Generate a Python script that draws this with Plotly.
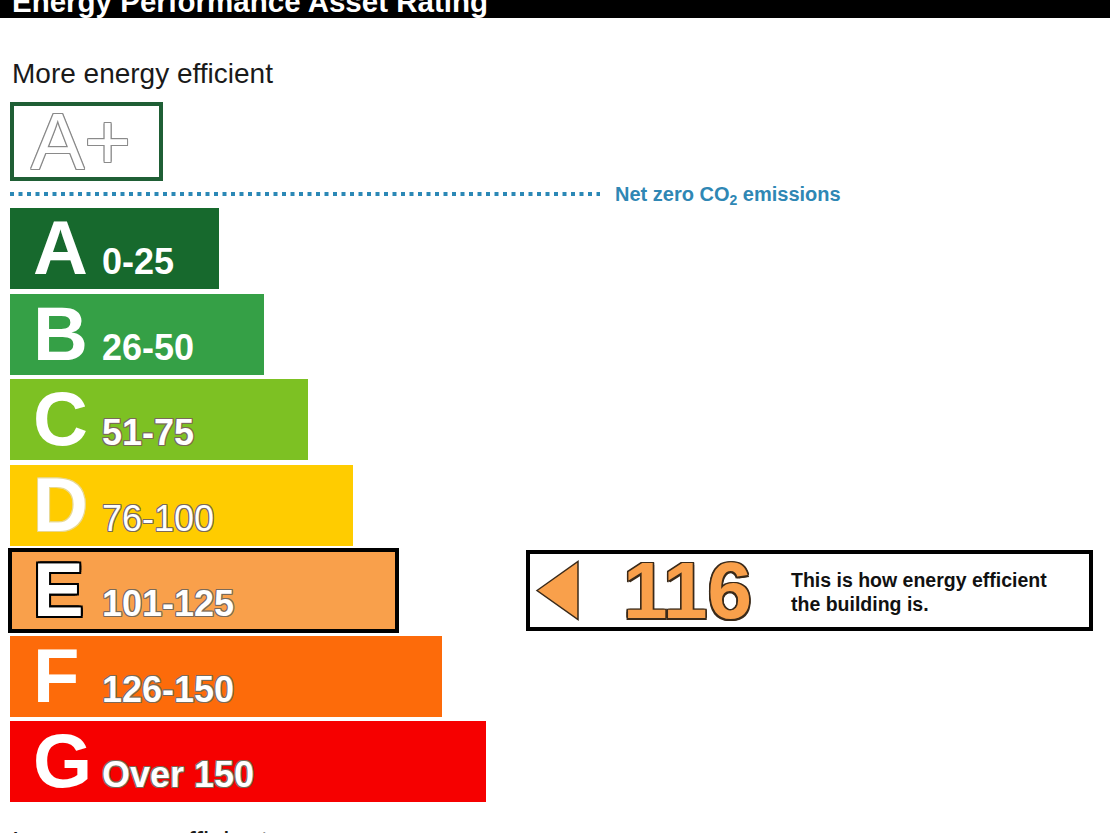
import plotly.graph_objects as go

# ---- data ----
bands = ["A", "B", "C", "D", "E", "F", "G"]
score_ranges = ["0-25", "26-50", "51-75", "76-100", "101-125", "126-150", "Over 150"]
band_colors = ["#17692d", "#35a046", "#7dc123", "#ffcc00", "#f9a04b", "#fd6b0a", "#f60000"]
rating = 116
rating_band = "E"
title_text = "Energy Performance Asset Rating"
top_label = "More energy efficient"
bottom_label = "Less energy efficient"
net_zero_label = "Net zero CO<sub>2</sub> emissions"
rating_note = ["This is how energy efficient", "the building is."]

W, H = 1110, 833
FONT = "Liberation Sans, Arial, sans-serif"

# layout geometry (pixels)
left = 10
top0 = 208
pitch = 85.5
bar_h = 81
len0 = 209
len_step = 44.5

tops = [top0 + pitch * i for i in range(len(bands))]
centers = [t + bar_h / 2 for t in tops]
lengths = [len0 + len_step * i for i in range(len(bands))]
sel = bands.index(rating_band)


def py(p):
    return 1 - p / H


def outline(col, w=1):
    return (f"-{w}px -{w}px 0 {col}, {w}px -{w}px 0 {col}, -{w}px {w}px 0 {col}, {w}px {w}px 0 {col},"
            f" 0 {w}px 0 {col}, 0 -{w}px 0 {col}, {w}px 0 0 {col}, -{w}px 0 0 {col}")


fig = go.Figure()
fig.add_trace(go.Bar(
    orientation="h",
    y=centers,
    x=lengths,
    base=left,
    width=[bar_h] * len(bands),
    marker=dict(
        color=band_colors,
        line=dict(color="#000000", width=[4 if b == rating_band else 0 for b in bands]),
    ),
    hoverinfo="skip",
    showlegend=False,
))

shapes = []
ann = []

# title band
shapes.append(dict(type="rect", xref="paper", yref="paper", x0=0, x1=1, y0=py(18), y1=py(-5),
                   fillcolor="#000000", line=dict(width=0), layer="below"))
ann.append(dict(xref="paper", yref="paper", x=left / W, y=py(1.5), xanchor="left", yanchor="middle",
                text=f"<b>{title_text}</b>", showarrow=False,
                font=dict(family=FONT, size=29.5, color="#ffffff")))

ann.append(dict(xref="paper", yref="paper", x=left / W, y=py(73), xanchor="left", yanchor="middle",
                text=top_label, showarrow=False, font=dict(family=FONT, size=28, color="#1a1a1a")))
ann.append(dict(xref="paper", yref="paper", x=left / W, y=py(841), xanchor="left", yanchor="middle",
                text=bottom_label, showarrow=False, font=dict(family=FONT, size=28, color="#1a1a1a")))

# A+ box
shapes.append(dict(type="rect", xref="x", yref="y", x0=left + 2, x1=161, y0=104, y1=179,
                   fillcolor="#ffffff", line=dict(color="#1f5f35", width=4)))
ann.append(dict(xref="x", yref="y", x=29, y=141, xanchor="left", yanchor="middle",
                text="A+", showarrow=False,
                font=dict(family=FONT, size=80, color="#ffffff", shadow=outline("#8a8a8a", 1))))

# net zero dotted line
shapes.append(dict(type="line", xref="x", yref="y", x0=left, x1=600, y0=194, y1=194,
                   line=dict(color="#2b88b6", width=4, dash="4px,4.5px")))
ann.append(dict(xref="x", yref="y", x=613, y=195, xanchor="left", yanchor="middle",
                text=f"<b>{net_zero_label}</b>", showarrow=False,
                font=dict(family=FONT, size=20, color="#2f87b4")))

# band letters and ranges
for i, b in enumerate(bands):
    if b == rating_band:
        lshadow = outline("#000000", 2)
    elif b == "D":
        lshadow = outline("#e8d890", 1)
    else:
        lshadow = "none"
    ann.append(dict(xref="x", yref="y", x=31, y=tops[i] + 39.5, xanchor="left", yanchor="middle",
                    text=f"<b>{b}</b>", showarrow=False,
                    font=dict(family=FONT, size=76, color="#ffffff", shadow=lshadow)))
    ann.append(dict(xref="x", yref="y", x=100, y=tops[i] + 53.5, xanchor="left", yanchor="middle",
                    text=score_ranges[i] if b == "D" else f"<b>{score_ranges[i]}</b>",
                    showarrow=False,
                    font=dict(family=FONT, size=36, color="#ffffff",
                              shadow=outline("#7a6a5a", 1) if b not in ("A", "B") else "none")))

# rating indicator
cy = centers[sel]
shapes.append(dict(type="rect", xref="x", yref="y", x0=528, x1=1091, y0=cy - 38.5, y1=cy + 38.5,
                   fillcolor="#ffffff", line=dict(color="#000000", width=4)))
shapes.append(dict(type="path", xref="x", yref="y",
                   path=f"M 537 {cy} L 578 {cy - 29} L 578 {cy + 29} Z",
                   fillcolor=band_colors[sel], line=dict(color="#3a2a1a", width=1.5)))
ann.append(dict(xref="x", yref="y", x=621, y=cy, xanchor="left", yanchor="middle",
                text=f"<b>{rating}</b>", showarrow=False,
                font=dict(family=FONT, size=80, color=band_colors[sel], shadow=outline("#3a2a1a", 1.5))))
ann.append(dict(xref="x", yref="y", x=789, y=cy - 11, xanchor="left", yanchor="middle",
                text=f"<b>{rating_note[0]}</b>", showarrow=False,
                font=dict(family=FONT, size=19.5, color="#111111")))
ann.append(dict(xref="x", yref="y", x=789, y=cy + 13, xanchor="left", yanchor="middle",
                text=f"<b>{rating_note[1]}</b>", showarrow=False,
                font=dict(family=FONT, size=19.5, color="#111111")))

fig.update_layout(
    width=W, height=H,
    margin=dict(l=0, r=0, t=0, b=0),
    paper_bgcolor="#ffffff", plot_bgcolor="#ffffff",
    xaxis=dict(range=[0, W], visible=False, fixedrange=True),
    yaxis=dict(range=[H, 0], visible=False, fixedrange=True),
    shapes=shapes, annotations=ann,
    bargap=0, showlegend=False,
)

fig.write_html("out.html", config={"displayModeBar": False},
               post_script="document.body.style.margin='0';document.body.style.overflow='hidden';")
